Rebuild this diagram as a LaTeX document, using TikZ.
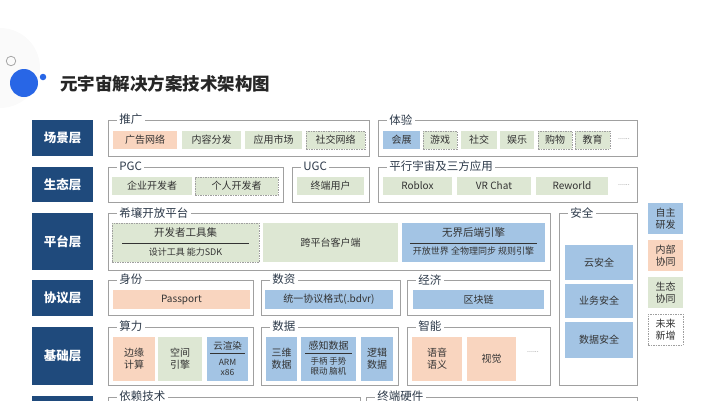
\documentclass[tikz,border=0pt]{standalone}
\usepackage{fontspec}
\setmainfont{Noto Sans CJK SC}
\usetikzlibrary{shadows}
\definecolor{lblue}{HTML}{1F4A7C}
\definecolor{ofill}{HTML}{F9D5BF}
\definecolor{gfill}{HTML}{DDE7D3}
\definecolor{bfill}{HTML}{A3C4E4}
\definecolor{fgray}{HTML}{A0A0A0}
\definecolor{txt}{HTML}{333333}
\definecolor{ttl}{HTML}{2D3A4A}
\definecolor{decblue}{HTML}{2866E6}
\newcommand\bx[7]{%
 \pgfmathsetmacro\bxcx{(#3+#5)/2}\pgfmathsetmacro\bxcy{(#4+#6)/2}%
 \pgfmathsetmacro\bxw{#5-#3}\pgfmathsetmacro\bxh{#6-#4}%
 \node[#2,minimum width=\bxw pt,minimum height=\bxh pt] (#1) at (\bxcx,\bxcy) {#7};}
\newcommand\frm[6]{\bx{#1}{frame}{#2}{#3}{#4}{#5}{}\node[gtitle] (#1t) at ([xshift=9pt]#1.north west) {#6};}
\begin{document}
\begin{tikzpicture}[x=1pt,y=-1pt,
 layer/.style={fill=lblue,text=white,inner sep=0,font=\fontsize{12.5}{14}\selectfont\bfseries},
 frame/.style={draw=fgray,fill=white,line width=0.8pt,inner sep=0,drop shadow={opacity=0.25,shadow xshift=0.9pt,shadow yshift=-0.9pt}},
 gtitle/.style={fill=white,inner sep=2.5pt,anchor=west,text=ttl,font=\fontsize{11.5}{13}\selectfont},
 item/.style={inner sep=0,text=txt,align=center,font=\fontsize{10}{12}\selectfont},
 og/.style={item,fill=ofill},
 gr/.style={item,fill=gfill},
 bl/.style={item,fill=bfill},
 dsh/.style={draw=gray!75,dash pattern=on 1.5pt off 1pt,line width=0.6pt},
 dots/.style={text=gray,inner sep=0,font=\fontsize{7}{8}\selectfont},
 sub/.style={text=txt,inner sep=0,font=\fontsize{9}{10}\selectfont},
 sep/.style={draw=txt,line width=0.5pt}]
\useasboundingbox (0,0) rectangle (707,400);
\clip (0,0) rectangle (707,400);
% decoration
\fill[black!2] (0,68) circle (40);
\node[circle,draw=gray!70,line width=0.8pt,minimum size=9.5pt,inner sep=0] (c1) at (11,61) {};
\node[circle,fill=decblue,minimum size=28pt,inner sep=0] (c2) at (24,83) {};
\node[circle,fill=decblue,minimum size=6.5pt,inner sep=0] (c3) at (43,77) {};
\node[anchor=west,inner sep=0,text=black!85,font=\fontsize{17.5}{20}\selectfont\bfseries] (title) at (60,84) {元宇宙解决方案技术架构图};
% layer labels
\bx{L1}{layer}{32}{120}{93}{156}{场景层}
\bx{L2}{layer}{32}{167}{93}{202}{生态层}
\bx{L3}{layer}{32}{213}{93}{270}{平台层}
\bx{L4}{layer}{32}{280}{93}{316}{协议层}
\bx{L5}{layer}{32}{327}{93}{385}{基础层}
\bx{L6}{layer}{32}{396}{93}{440}{}
% frames
\frm{fA}{108}{120}{369}{156}{推广}
\frm{fB}{378}{120}{637}{156}{体验}
\frm{fC}{108}{167}{283}{202}{PGC}
\frm{fD}{292}{167}{369}{202}{UGC}
\frm{fE}{378}{167}{637}{202}{平行宇宙及三方应用}
\frm{fF}{108}{213}{550}{270}{希壤开放平台}
\frm{fS}{559}{213}{637}{385}{安全}
\frm{fG}{108}{280}{253}{315}{身份}
\frm{fH}{261}{280}{400}{315}{数资}
\frm{fI}{407}{280}{550}{315}{经济}
\frm{fJ}{108}{327}{253}{385}{算力}
\frm{fK}{261}{327}{398}{385}{数据}
\frm{fL}{407}{327}{550}{385}{智能}
\frm{fM}{108}{397}{360}{440}{依赖技术}
\frm{fN}{366}{397}{637}{440}{终端硬件}
% row 1
\bx{a1}{og}{113}{131}{177}{149}{广告网络}
\bx{a2}{gr}{182}{131}{241}{149}{内容分发}
\bx{a3}{gr}{245}{131}{302}{149}{应用市场}
\bx{a4}{gr,dsh}{306}{131}{365}{149}{社交网络}
\bx{b1}{bl}{383}{131}{420}{149}{会展}
\bx{b2}{gr,dsh}{423}{131}{457}{149}{游戏}
\bx{b3}{gr}{461}{131}{497}{149}{社交}
\bx{b4}{gr}{500}{131}{534}{149}{娱乐}
\bx{b5}{gr,dsh}{538}{131}{572}{149}{购物}
\bx{b6}{gr,dsh}{575}{131}{610}{149}{教育}
\node[dots] (b7) at (624,139) {......};
% row 2
\bx{c1}{gr}{112}{177}{192}{195}{企业开发者}
\bx{c2}{gr,dsh}{195}{177}{278}{195}{个人开发者}
\bx{d1}{gr}{297}{177}{364}{195}{终端用户}
\bx{e1}{gr}{383}{177}{452}{195}{Roblox}
\bx{e2}{gr}{457}{177}{531}{195}{VR Chat}
\bx{e3}{gr}{536}{177}{608}{195}{Reworld}
\node[dots] (e4) at (624,185) {......};
% row 3
\bx{f1}{gr,dsh}{112}{223}{259}{262}{}
\node[item,font=\fontsize{10.5}{12}\selectfont] (f1a) at (185.5,233) {开发者工具集};
\draw[sep] (122,243) -- (249,243);
\node[sub] (f1b) at (185.5,252.5) {设计工具 能力SDK};
\bx{f2}{gr}{263}{223}{398}{262}{跨平台客户端}
\bx{f3}{bl}{402}{223}{545}{262}{}
\node[item,font=\fontsize{10.5}{12}\selectfont] (f3a) at (473.5,233) {无界后端引擎};
\draw[sep] (410,243) -- (537,243);
\node[sub] (f3b) at (473.5,251.5) {开放世界 全物理同步 规则引擎};
\bx{s1}{bl}{565}{245}{633}{280}{云安全}
\bx{s2}{bl}{565}{284}{633}{318}{业务安全}
\bx{s3}{bl}{565}{322}{633}{358}{数据安全}
% row 4
\bx{g1}{og}{113}{290}{250}{309}{Passport}
\bx{h1}{bl}{265}{290}{393}{309}{统一协议格式(.bdvr)}
\bx{i1}{bl}{413}{290}{544}{309}{区块链}
% row 5
\bx{j1}{og}{113}{337}{155}{381}{边缘\\计算}
\bx{j2}{gr}{158}{337}{202}{381}{空间\\引擎}
\bx{j3}{bl}{207}{337}{248}{381}{}
\node[item,font=\fontsize{9.5}{11}\selectfont] (j3a) at (227.5,346) {云渲染};
\draw[sep] (210,353) -- (245,353);
\node[sub,font=\fontsize{8.5}{9}\selectfont] (j3b) at (227.5,362) {ARM};
\node[sub,font=\fontsize{8.5}{9}\selectfont] (j3c) at (227.5,372) {x86};
\bx{k1}{bl}{266}{337}{297}{381}{三维\\数据}
\bx{k2}{bl}{301}{337}{356}{381}{}
\node[item] (k2a) at (328.5,346) {感知数据};
\draw[sep] (305,353) -- (352,353);
\node[sub,font=\fontsize{8.5}{9}\selectfont] (k2b) at (328.5,361) {手柄 手势};
\node[sub,font=\fontsize{8.5}{9}\selectfont] (k2c) at (328.5,371) {眼动 脑机};
\bx{k3}{bl}{361}{337}{393}{381}{逻辑\\数据}
\bx{l1}{og}{412}{337}{462}{381}{语音\\语义}
\bx{l2}{og}{467}{337}{516}{381}{视觉}
\node[dots] (l3) at (533,352) {......};
% legend
\bx{m1}{bl}{648}{203}{683}{234}{自主\\研发}
\bx{m2}{og}{648}{240}{683}{271}{内部\\协同}
\bx{m3}{gr}{648}{277}{683}{308}{生态\\协同}
\bx{m4}{item,fill=white,dsh}{648}{314}{683}{345}{未来\\新增}
\end{tikzpicture}
\end{document}
